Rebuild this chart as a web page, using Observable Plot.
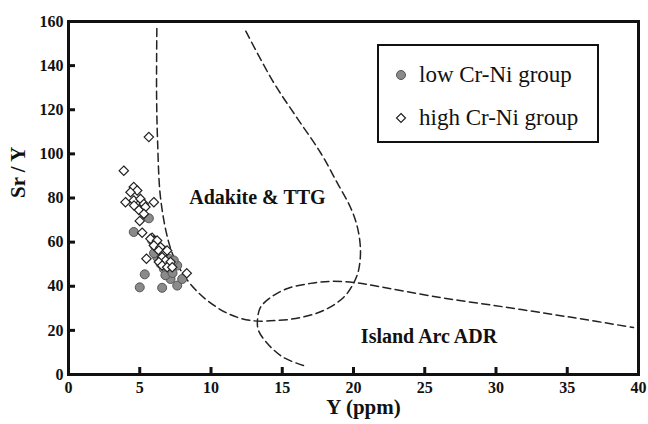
<!DOCTYPE html>
<html>
<head>
<meta charset="utf-8">
<script src="https://cdn.jsdelivr.net/npm/d3@7"></script>
<script src="https://cdn.jsdelivr.net/npm/@observablehq/plot@0.6"></script>
<style>
  body { margin: 0; background: #fff; }
  #wrap { position: relative; width: 648px; height: 424px; font-family: "Liberation Serif", serif; }
  #legend { position: absolute; left: 377px; top: 44px; width: 218px; height: 95px; border: 2px solid #111; background: #fff; }
  .row { position: absolute; left: 0; height: 30px; display: flex; align-items: center; font-size: 23px; color: #111; white-space: nowrap; }
  .row svg { margin-left: 16px; margin-right: 12px; }
</style>
</head>
<body>
<div id="wrap"></div>
<script>
// Y (ppm), Sr/Y — low Cr-Ni group (grey circles)
const lowX = [5.64,4.58,5.35,5.0,6.57,7.63,7.98,7.16,7.16,6.69,6.46,7.63,6.22,6.69,6.1,7.04,7.39,5.87,6.46,6.8,7.3,6.0,6.9];
const lowY = [70.8,64.6,45.4,39.5,39.3,40.3,43.3,43.3,47.1,47.9,50.2,49.4,53.2,56.2,57.7,52.5,51.7,60.7,54.7,45.0,46.0,55.0,50.0];
// high Cr-Ni group (open diamonds)
const highX = [5.64,3.88,4.58,4.82,4.35,4.0,4.58,5.05,5.99,5.29,4.94,5.4,5.29,5.0,5.17,5.87,5.99,5.47,8.3,5.75,6.22,5.99,6.46,6.34,6.69,6.57,6.92,6.81,7.16,6.34,6.57,6.92,7.28,4.6];
const highY = [107.6,92.4,85.0,83.4,82.6,78.1,78.9,79.6,78.1,77.3,74.6,75.9,72.8,69.6,64.3,62.0,60.7,52.5,45.9,61.5,60.7,58.5,57.7,56.2,54.7,53.2,56.2,51.7,51.0,51.0,49.4,48.6,48.6,76.6];
// field boundary: Adakite & TTG
const adakiteX = [6.2,6.18,6.25,6.46,7.0,7.5,8.2,8.9,9.75,11.16,12.77,14.67,16.28,17.89,19.3,20.0,20.35,20.49,20.28,19.79,18.88,17.7,16.07,14.39,12.42];
const adakiteY = [156.8,128,106,80,60.7,51.7,44,38.5,33.5,27.7,24.5,24.5,25.8,29,34.9,41.3,47.1,56.2,66.6,75.7,86.6,100.4,116,132.4,155.9];
// field boundary: Island Arc ADR
const arcX = [16.49,15.09,13.96,13.33,13.26,13.47,14.18,15.37,16.98,18.39,20.0,21.4,26.1,30.8,35.4,39.65];
const arcY = [4.1,7.7,14,20,24.5,30.4,34.9,39,41.3,42.2,41.7,40.3,34.9,30.4,25.8,21.3];
// field labels
const fieldNames = ["Adakite & TTG", "Island Arc ADR"];
const fieldX = [13.26, 25.3];
const fieldY = [80.2, 17.2];
const xTicks = [0,5,10,15,20,25,30,35,40];
const yTicks = [0,20,40,60,80,100,120,140,160];

const low = lowX.map((x,i) => ({x, y: lowY[i]}));
const high = highX.map((x,i) => ({x, y: highY[i]}));
const adakite = adakiteX.map((x,i) => ({x, y: adakiteY[i]}));
const arc = arcX.map((x,i) => ({x, y: arcY[i]}));
const fields = fieldNames.map((t,i) => ({t, x: fieldX[i], y: fieldY[i]}));

const F = "Liberation Serif";
const T = {fontFamily: F, fontWeight: "bold", fill: "#111"};
const chart = Plot.plot({
  width: 648, height: 424,
  marginLeft: 68, marginRight: 10, marginTop: 21, marginBottom: 50,
  x: {domain: [0, 40]},
  y: {domain: [0, 160]},
  marks: [
    Plot.line(adakite, {x: "x", y: "y", curve: "catmull-rom", stroke: "#222", strokeWidth: 1.5, strokeDasharray: "8,4.5"}),
    Plot.line(arc, {x: "x", y: "y", curve: "catmull-rom", stroke: "#222", strokeWidth: 1.5, strokeDasharray: "8,4.5"}),
    Plot.dot(low, {x: "x", y: "y", r: 4.5, fill: "#8a8a8a", stroke: "#555", strokeWidth: 1}),
    Plot.dot(high, {x: "x", y: "y", r: 4.2, symbol: "diamond2", fill: "#fff", stroke: "#222", strokeWidth: 1.2}),
    Plot.text(fields, {x: "x", y: "y", text: "t", fontSize: 20, ...T}),
    // inward ticks
    Plot.axisX({ticks: xTicks, tickSize: 7, dy: -7, tickFormat: () => "", stroke: "#111", strokeWidth: 3, label: null}),
    Plot.axisY({ticks: yTicks, tickSize: 7, dx: 7, tickFormat: () => "", stroke: "#111", strokeWidth: 3, label: null}),
    // tick labels
    Plot.text(xTicks, {x: d => d, frameAnchor: "bottom", lineAnchor: "top", dy: 7, text: d => String(d), fontSize: 16, ...T}),
    Plot.text(yTicks, {y: d => d, frameAnchor: "left", textAnchor: "end", dx: -5, text: d => String(d), fontSize: 16, ...T}),
    Plot.frame({stroke: "#111", strokeWidth: 3}),
    // axis titles
    Plot.text(["Sr / Y"], {frameAnchor: "left", rotate: -90, dx: -50, fontSize: 21, ...T}),
    Plot.text(["Y (ppm)"], {frameAnchor: "bottom", dy: 39, dx: 10, fontSize: 21, ...T})
  ]
});
const wrap = document.getElementById("wrap");
wrap.appendChild(chart);

const legend = document.createElement("div");
legend.id = "legend";
legend.innerHTML = `
  <div class="row" style="top:14px"><svg width="12" height="12"><circle cx="6" cy="6" r="4.5" fill="#8a8a8a" stroke="#555"/></svg>low Cr-Ni group</div>
  <div class="row" style="top:57px"><svg width="12" height="12"><path d="M6,1.5L10.5,6L6,10.5L1.5,6Z" fill="#fff" stroke="#222" stroke-width="1.2"/></svg>high Cr-Ni group</div>`;
wrap.appendChild(legend);
</script>
</body>
</html>
